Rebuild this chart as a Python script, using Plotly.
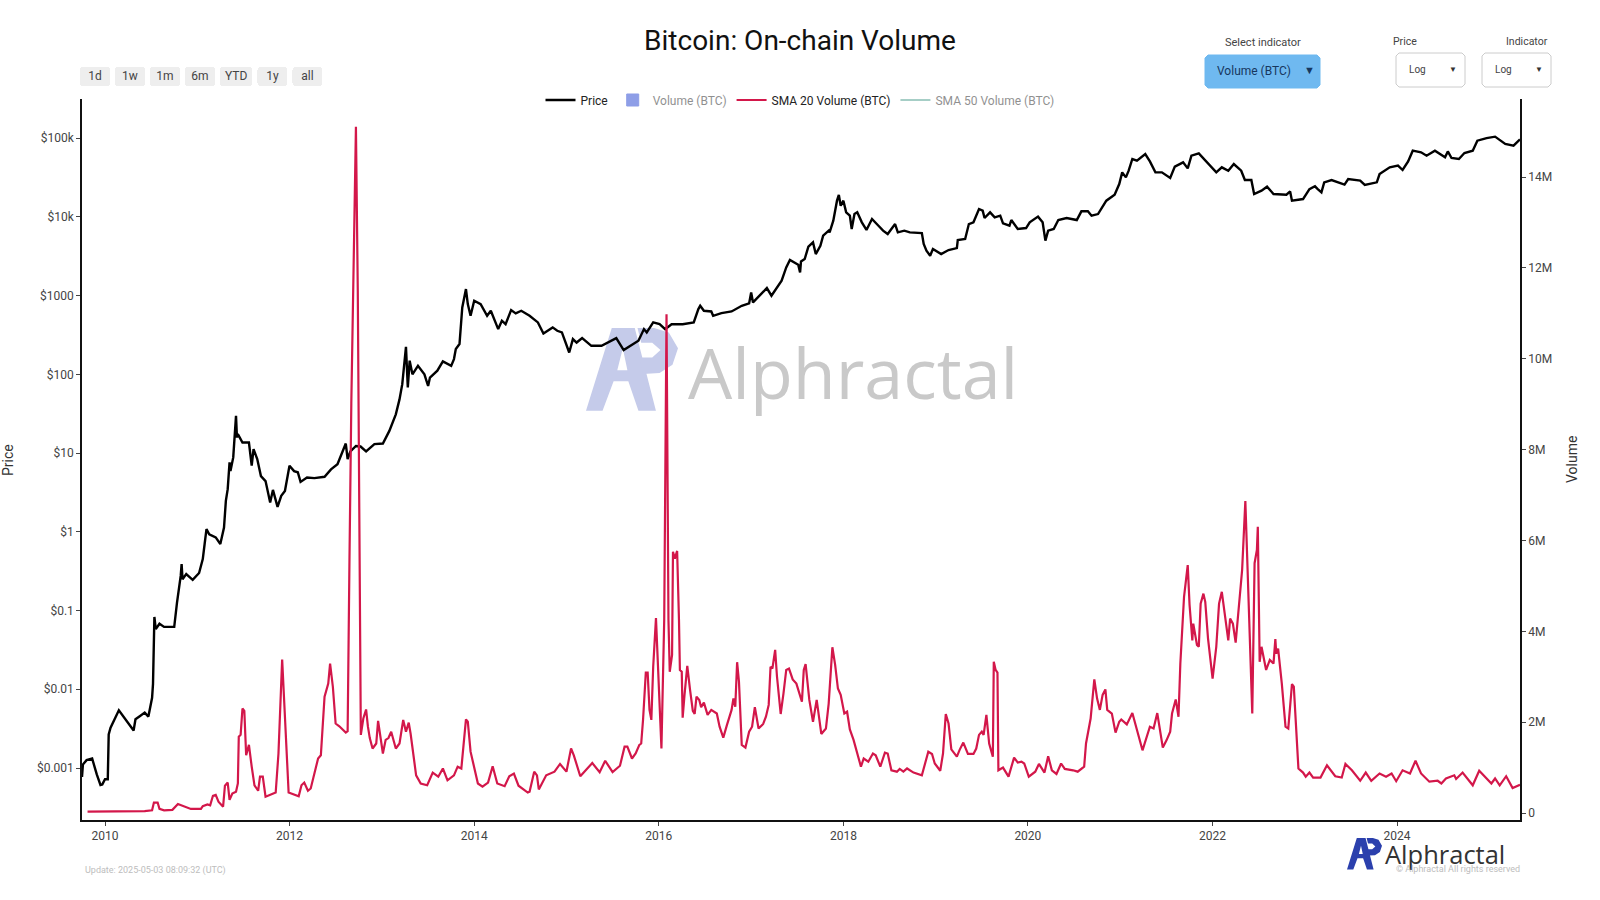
import pandas as pd
import plotly.graph_objects as go

### price (decimal year / usd)
price_years = [2009.75, 2009.76, 2009.80, 2009.86, 2009.91, 2009.95, 2009.97, 2010.00, 2010.03, 2010.04,
    2010.06, 2010.15, 2010.31, 2010.33, 2010.38, 2010.43, 2010.47, 2010.49, 2010.51, 2010.52,
    2010.53, 2010.535, 2010.55, 2010.59, 2010.64, 2010.75, 2010.78, 2010.80, 2010.82, 2010.83, 2010.84,
    2010.88, 2010.95, 2011.02, 2011.06, 2011.08, 2011.10, 2011.13, 2011.20, 2011.25, 2011.29,
    2011.31, 2011.33, 2011.35, 2011.36, 2011.39, 2011.42, 2011.43, 2011.44, 2011.49, 2011.56,
    2011.59, 2011.61, 2011.65, 2011.69, 2011.74, 2011.79, 2011.82, 2011.87, 2011.91, 2011.95,
    2012.00, 2012.05, 2012.09, 2012.12, 2012.19, 2012.27, 2012.38, 2012.45, 2012.52, 2012.61,
    2012.63, 2012.66, 2012.72, 2012.77, 2012.83, 2012.92, 2013.01, 2013.08, 2013.15, 2013.19,
    2013.22, 2013.26, 2013.28, 2013.30, 2013.33, 2013.39, 2013.46, 2013.50, 2013.52, 2013.60,
    2013.66, 2013.75, 2013.78, 2013.80, 2013.84, 2013.87, 2013.91, 2013.93, 2013.96, 2014.00,
    2014.07, 2014.14, 2014.18, 2014.26, 2014.30, 2014.34, 2014.40, 2014.45, 2014.51, 2014.60,
    2014.69, 2014.75, 2014.85, 2014.90, 2014.95, 2015.03, 2015.07, 2015.11, 2015.17, 2015.27,
    2015.38, 2015.54, 2015.62, 2015.70, 2015.78, 2015.84, 2015.87, 2015.94, 2016.01, 2016.07,
    2016.14, 2016.26, 2016.38, 2016.43, 2016.45, 2016.49, 2016.57, 2016.59, 2016.68, 2016.79,
    2016.90, 2016.98, 2017.00, 2017.02, 2017.09, 2017.17, 2017.22, 2017.27, 2017.33, 2017.38,
    2017.42, 2017.51, 2017.53, 2017.54, 2017.58, 2017.62, 2017.67, 2017.70, 2017.75, 2017.78,
    2017.84, 2017.85, 2017.89, 2017.93, 2017.95, 2017.97, 2018.00, 2018.03, 2018.07, 2018.09,
    2018.12, 2018.15, 2018.20, 2018.25, 2018.31, 2018.38, 2018.43, 2018.48, 2018.56, 2018.59,
    2018.66, 2018.72, 2018.85, 2018.87, 2018.90, 2018.94, 2018.97, 2019.06, 2019.14, 2019.23,
    2019.24, 2019.32, 2019.36, 2019.41, 2019.47, 2019.51, 2019.53, 2019.59, 2019.64, 2019.70,
    2019.73, 2019.80, 2019.82, 2019.89, 2019.98, 2020.02, 2020.11, 2020.16, 2020.19, 2020.22,
    2020.28, 2020.33, 2020.42, 2020.53, 2020.58, 2020.65, 2020.69, 2020.76, 2020.85, 2020.94,
    2020.99, 2021.02, 2021.06, 2021.09, 2021.13, 2021.18, 2021.27, 2021.32, 2021.38, 2021.45,
    2021.54, 2021.59, 2021.68, 2021.73, 2021.77, 2021.85, 2021.94, 2022.04, 2022.10, 2022.17,
    2022.23, 2022.31, 2022.35, 2022.42, 2022.45, 2022.53, 2022.59, 2022.66, 2022.80, 2022.84,
    2022.86, 2022.98, 2023.05, 2023.11, 2023.14, 2023.18, 2023.21, 2023.29, 2023.43, 2023.47,
    2023.60, 2023.65, 2023.78, 2023.81, 2023.92, 2024.01, 2024.06, 2024.12, 2024.17, 2024.26,
    2024.32, 2024.41, 2024.52, 2024.55, 2024.59, 2024.67, 2024.73, 2024.82, 2024.87, 2024.97,
    2025.06, 2025.17, 2025.26, 2025.32, 2025.33]
price_usd = [0.00077, 0.00111, 0.00126, 0.00132, 0.00083, 0.00061, 0.00062, 0.00072, 0.00072, 0.00268,
    0.00325, 0.0054, 0.003, 0.00416, 0.00458, 0.00505, 0.0045, 0.00614, 0.0078, 0.0117,
    0.0307, 0.083, 0.058, 0.068, 0.062, 0.062, 0.126, 0.18, 0.275, 0.388, 0.25,
    0.29, 0.245, 0.30, 0.45, 0.70, 1.08, 0.93, 0.85, 0.70, 1.13,
    2.47, 3.48, 7.6, 5.9, 8.8, 29.7, 15.8, 17.4, 13.6, 13.6,
    6.9, 11.2, 8.4, 5.1, 4.4, 2.36, 3.4, 2.07, 2.86, 3.3,
    6.9, 5.9, 5.7, 4.3, 4.9, 4.8, 5.0, 6.2, 7.2, 13.2,
    8.4, 10.5, 12.3, 12.1, 10.5, 13.0, 13.2, 19.1, 31, 48,
    75, 223, 68, 149, 100, 128, 100, 71, 91, 111,
    146, 128, 156, 209, 242, 706, 1208, 778, 553, 859,
    778, 553, 641, 375, 479, 433, 653, 593, 641, 553,
    456, 330, 394, 357, 340, 189, 280, 253, 288, 230,
    230, 288, 203, 230, 267, 375, 340, 456, 433, 375,
    433, 433, 456, 673, 741, 641, 628, 553, 598, 628,
    741, 794, 1096, 818, 995, 1244, 995, 1208, 1542, 2280,
    2825, 2466, 1967, 2716, 2911, 4169, 4732, 3365, 4295, 5754,
    6668, 6340, 8927, 16030, 18923, 13836, 16030, 11400, 10328, 7000,
    10840, 11400, 8510, 6800, 9380, 7700, 6670, 6040, 8090, 6340,
    6670, 6340, 6220, 4510, 3715, 3210, 3900, 3365, 3785, 4010,
    5070, 5220, 8090, 8510, 12560, 11970, 9660, 11400, 9840, 10330,
    8260, 7710, 9100, 7000, 7200, 8510, 10050, 8510, 4980, 6670,
    7000, 9100, 9660, 9100, 11740, 11740, 10330, 10840, 16030, 19100,
    26100, 36700, 31700, 38500, 54200, 51600, 62700, 50600, 36700, 36700,
    31100, 43400, 49200, 41200, 59700, 64000, 49200, 36700, 42500, 38500,
    46800, 38500, 29300, 29300, 19500, 21500, 24100, 19500, 19100, 21000,
    16000, 16800, 22500, 24400, 22500, 20400, 27400, 29300, 25600, 30200,
    28800, 25400, 27400, 34900, 42500, 44600, 39300, 50600, 69200, 65900,
    59700, 69200, 56900, 67700, 55800, 54200, 64500, 69200, 92700, 100000,
    104200, 84100, 80000, 94400, 96000]

### SMA 20 volume (decimal year / million BTC)
sma20_years = [2009.81, 2010.43, 2010.51, 2010.53, 2010.57, 2010.59, 2010.64, 2010.73, 2010.79, 2010.86,
    2010.93, 2011.04, 2011.06, 2011.11, 2011.14, 2011.17, 2011.20, 2011.23, 2011.28, 2011.30,
    2011.33, 2011.35, 2011.38, 2011.42, 2011.44, 2011.45, 2011.47, 2011.49, 2011.51, 2011.53,
    2011.56, 2011.59, 2011.62, 2011.66, 2011.68, 2011.71, 2011.74, 2011.85, 2011.88, 2011.92,
    2011.94, 2011.99, 2012.10, 2012.13, 2012.16, 2012.20, 2012.23, 2012.31, 2012.34, 2012.38,
    2012.42, 2012.44, 2012.47, 2012.50, 2012.54, 2012.61, 2012.63, 2012.64, 2012.65, 2012.67,
    2012.69, 2012.72, 2012.74, 2012.75, 2012.766, 2012.773, 2012.80, 2012.83, 2012.85, 2012.87,
    2012.90, 2012.94, 2012.96, 2013.01, 2013.04, 2013.07, 2013.10, 2013.15, 2013.19, 2013.23,
    2013.26, 2013.29, 2013.31, 2013.34, 2013.37, 2013.42, 2013.49, 2013.55, 2013.61, 2013.66,
    2013.71, 2013.78, 2013.82, 2013.86, 2013.91, 2013.93, 2013.96, 2014.04, 2014.09, 2014.15,
    2014.20, 2014.25, 2014.33, 2014.38, 2014.43, 2014.48, 2014.58, 2014.60, 2014.65, 2014.68,
    2014.70, 2014.78, 2014.87, 2014.93, 2015.00, 2015.05, 2015.08, 2015.15, 2015.28, 2015.36,
    2015.42, 2015.50, 2015.58, 2015.63, 2015.66, 2015.71, 2015.75, 2015.79, 2015.81, 2015.83,
    2015.86, 2015.88, 2015.90, 2015.92, 2015.94, 2015.97, 2016.03, 2016.06, 2016.085, 2016.106,
    2016.12, 2016.145, 2016.155, 2016.175, 2016.20, 2016.22, 2016.23, 2016.25, 2016.26, 2016.28,
    2016.31, 2016.34, 2016.37, 2016.39, 2016.41, 2016.44, 2016.46, 2016.49, 2016.53, 2016.57,
    2016.63, 2016.66, 2016.70, 2016.74, 2016.79, 2016.81, 2016.83, 2016.85, 2016.87, 2016.90,
    2016.94, 2016.98, 2017.01, 2017.04, 2017.08, 2017.13, 2017.16, 2017.19, 2017.21, 2017.23,
    2017.26, 2017.28, 2017.32, 2017.35, 2017.38, 2017.41, 2017.45, 2017.49, 2017.55, 2017.57,
    2017.59, 2017.63, 2017.67, 2017.71, 2017.76, 2017.81, 2017.84, 2017.88, 2017.91, 2017.94,
    2017.97, 2018.01, 2018.04, 2018.07, 2018.11, 2018.19, 2018.22, 2018.27, 2018.32, 2018.35,
    2018.40, 2018.45, 2018.48, 2018.52, 2018.58, 2018.61, 2018.65, 2018.69, 2018.76, 2018.85,
    2018.92, 2018.96, 2018.99, 2019.05, 2019.08, 2019.11, 2019.14, 2019.17, 2019.23, 2019.26,
    2019.30, 2019.35, 2019.41, 2019.44, 2019.47, 2019.50, 2019.52, 2019.55, 2019.58, 2019.62,
    2019.63, 2019.65, 2019.67, 2019.68, 2019.73, 2019.79, 2019.85, 2019.89, 2019.93, 2019.96,
    2020.01, 2020.08, 2020.12, 2020.18, 2020.22, 2020.26, 2020.31, 2020.36, 2020.40, 2020.49,
    2020.54, 2020.61, 2020.63, 2020.68, 2020.72, 2020.75, 2020.78, 2020.81, 2020.84, 2020.86,
    2020.91, 2020.95, 2020.99, 2021.01, 2021.07, 2021.13, 2021.18, 2021.24, 2021.32, 2021.36,
    2021.40, 2021.46, 2021.50, 2021.54, 2021.56, 2021.60, 2021.63, 2021.65, 2021.69, 2021.73,
    2021.75, 2021.78, 2021.79, 2021.83, 2021.85, 2021.87, 2021.90, 2021.92, 2021.95, 2022.00,
    2022.04, 2022.07, 2022.10, 2022.13, 2022.17, 2022.19, 2022.22, 2022.25, 2022.28, 2022.32,
    2022.355, 2022.40, 2022.43, 2022.455, 2022.48, 2022.49, 2022.51, 2022.53, 2022.58, 2022.62,
    2022.66, 2022.68, 2022.69, 2022.71, 2022.75, 2022.79, 2022.82, 2022.86, 2022.88, 2022.93,
    2022.98, 2023.01, 2023.05, 2023.09, 2023.17, 2023.24, 2023.33, 2023.40, 2023.44, 2023.51,
    2023.60, 2023.66, 2023.72, 2023.81, 2023.88, 2023.94, 2023.99, 2024.06, 2024.14, 2024.20,
    2024.26, 2024.35, 2024.44, 2024.48, 2024.53, 2024.62, 2024.64, 2024.71, 2024.82, 2024.89,
    2024.96, 2025.02, 2025.06, 2025.11, 2025.18, 2025.25, 2025.33]
sma20_mbtc = [0.03, 0.04, 0.06, 0.23, 0.23, 0.09, 0.06, 0.07, 0.20, 0.15,
    0.09, 0.09, 0.15, 0.19, 0.17, 0.38, 0.40, 0.25, 0.14, 0.60,
    0.67, 0.29, 0.43, 0.47, 0.65, 1.68, 1.72, 2.30, 2.25, 1.27,
    1.50, 1.02, 0.61, 0.49, 0.80, 0.80, 0.36, 0.45, 1.31, 3.38,
    2.56, 0.45, 0.37, 0.61, 0.67, 0.49, 0.54, 1.20, 1.27, 2.56,
    2.85, 3.29, 2.78, 1.97, 1.91, 1.77, 1.80, 4.25, 5.57, 9.02,
    11.5, 15.11, 11.5, 8.2, 4.25, 1.72, 2.08, 2.28, 1.90, 1.65,
    1.42, 1.53, 2.03, 1.31, 1.61, 1.65, 1.79, 1.42, 1.53, 2.05,
    1.79, 1.99, 1.75, 1.24, 0.83, 0.65, 0.61, 0.89, 0.80, 0.98,
    0.72, 0.83, 1.02, 0.98, 2.06, 2.01, 1.35, 0.65, 0.58, 0.67,
    1.03, 0.65, 0.59, 0.81, 0.87, 0.60, 0.45, 0.47, 0.91, 0.83,
    0.52, 0.83, 0.91, 1.08, 0.91, 1.42, 1.27, 0.81, 1.10, 0.90,
    1.15, 0.90, 1.04, 1.46, 1.46, 1.20, 1.31, 1.50, 1.53, 2.05,
    3.09, 3.09, 2.27, 2.05, 3.22, 4.29, 1.42, 4.25, 10.98, 4.25,
    3.11, 3.48, 5.75, 5.60, 5.77, 4.25, 3.15, 3.11, 2.10, 2.60,
    3.24, 2.71, 2.25, 2.18, 2.56, 2.49, 2.33, 2.43, 2.16, 2.27,
    2.19, 1.90, 1.66, 1.94, 2.27, 2.52, 2.34, 3.32, 2.89, 1.50,
    1.44, 1.79, 1.90, 2.33, 1.86, 1.96, 2.12, 2.38, 3.22, 3.18,
    3.59, 3.00, 2.18, 2.63, 3.15, 3.18, 2.94, 2.85, 2.45, 3.15,
    3.28, 2.49, 2.01, 2.49, 1.74, 1.86, 2.41, 3.65, 3.26, 2.74,
    2.60, 2.19, 2.23, 1.84, 1.61, 1.02, 1.20, 1.13, 1.31, 1.27,
    1.02, 1.33, 1.31, 0.94, 0.91, 0.97, 0.91, 0.98, 0.89, 0.83,
    1.35, 1.30, 1.09, 0.93, 1.31, 2.18, 1.97, 1.40, 1.24, 1.39,
    1.55, 1.30, 1.30, 1.42, 1.72, 1.79, 1.72, 2.16, 1.53, 1.24,
    3.33, 3.15, 3.09, 0.94, 1.00, 0.80, 1.22, 1.11, 1.13, 1.09,
    0.80, 0.91, 1.08, 0.89, 1.25, 0.94, 0.86, 1.09, 0.97, 0.94,
    0.91, 1.02, 1.53, 2.08, 2.94, 2.52, 2.27, 2.60, 2.72, 2.27,
    2.19, 1.77, 2.01, 2.06, 1.95, 2.20, 1.82, 1.38, 1.90, 1.86,
    2.20, 1.44, 1.60, 1.79, 2.19, 2.50, 2.12, 3.29, 4.76, 5.46,
    4.58, 3.80, 4.17, 3.70, 3.66, 4.61, 4.83, 4.65, 3.84, 2.96,
    3.66, 4.61, 4.87, 4.36, 3.80, 4.28, 4.17, 3.75, 4.50, 5.35,
    6.87, 4.32, 2.19, 5.50, 5.79, 6.30, 3.33, 3.66, 3.15, 3.37,
    3.29, 3.83, 3.51, 3.62, 2.85, 1.90, 1.86, 2.84, 2.78, 0.98,
    0.89, 0.80, 0.89, 0.78, 0.78, 1.05, 0.81, 0.78, 1.08, 0.94,
    0.71, 0.89, 0.71, 0.87, 0.80, 0.87, 0.70, 0.94, 0.87, 1.15,
    0.87, 0.69, 0.71, 0.65, 0.76, 0.83, 0.75, 0.89, 0.61, 0.93,
    0.78, 0.65, 0.76, 0.61, 0.81, 0.55, 0.62]

### hidden in the reference (legend only), last value is all that can be guessed
volume_years = [2025.33]
volume_mbtc = [0.6]
sma50_years = [2025.33]
sma50_mbtc = [0.8]

price_ticks = [0.001, 0.01, 0.1, 1, 10, 100, 1000, 10000, 100000]
price_labels = ['$0.001', '$0.01', '$0.1', '$1', '$10', '$100', '$1000', '$10k', '$100k']
volume_ticks = [0, 2, 4, 6, 8, 10, 12, 14]
volume_labels = ['0', '2M', '4M', '6M', '8M', '10M', '12M', '14M']

assert len(price_years) == len(price_usd)
assert len(sma20_years) == len(sma20_mbtc)

W, H = 1600, 900
L, R, T, B = 82, 1520, 99, 820  ### plot area in pixels


def to_dates(years):
    return [pd.Timestamp(int(y), 1, 1) + pd.Timedelta(days=(y - int(y)) * 365.25) for y in years]


def px_x(x):
    return (x - L) / (R - L)


def px_y(y):
    return (B - y) / (B - T)


def note(text, x, y, size, color, anchor='left', **kw):
    return dict(text=text, x=px_x(x), y=px_y(y), xref='paper', yref='paper', showarrow=False,
                xanchor=anchor, yanchor='middle', font=kw.pop('font', {}) | dict(size=size, color=color), **kw)


def box(x0, y0, x1, y1, fill, line, r=3):
    p = (f'M{px_x(x0 + r)},{px_y(y0)} L{px_x(x1 - r)},{px_y(y0)} L{px_x(x1)},{px_y(y0 + r)} '
         f'L{px_x(x1)},{px_y(y1 - r)} L{px_x(x1 - r)},{px_y(y1)} L{px_x(x0 + r)},{px_y(y1)} '
         f'L{px_x(x0)},{px_y(y1 - r)} L{px_x(x0)},{px_y(y0 + r)} Z')
    return dict(type='path', path=p, xref='paper', yref='paper', fillcolor=fill, line=dict(color=line, width=1))


### logo drawn in a 100x90 box
logo_a = [(0, 90), (18, 90), (30, 58), (46, 58), (57, 90), (76, 90), (53, 0), (28, 0)]
logo_a_hole = [(34, 46), (40, 22), (45, 46)]
logo_p = [(56, 0), (74, 0), (90, 5), (100, 22), (94, 40), (80, 49), (62, 50), (58, 32), (72, 32), (81, 24),
          (72, 16), (60, 16)]


def logo(x0, y0, k, color):
    def sub(pts):
        return 'M' + ' L'.join(f'{px_x(x0 + a * k)},{px_y(y0 + b * k)}' for a, b in pts) + ' Z'
    return [dict(type='path', path=sub(logo_a) + ' ' + sub(logo_a_hole), xref='paper', yref='paper',
                 fillcolor=color, line=dict(width=0), layer='below'),
            dict(type='path', path=sub(logo_p), xref='paper', yref='paper',
                 fillcolor=color, line=dict(width=0), layer='below')]


fig = go.Figure()
fig.add_trace(go.Scatter(x=to_dates(price_years), y=price_usd, name='Price', mode='lines',
                         line=dict(color='#000000', width=2.4), yaxis='y'))
fig.add_trace(go.Bar(x=to_dates(volume_years), y=volume_mbtc, name='Volume (BTC)', yaxis='y2',
                     marker=dict(color='#1f3fd0', line=dict(color='#1f3fd0', width=1)), visible='legendonly'))
fig.add_trace(go.Scatter(x=to_dates(sma20_years), y=sma20_mbtc, name='SMA 20 Volume (BTC)', mode='lines',
                         line=dict(color='#d3174a', width=2.2), yaxis='y2'))
fig.add_trace(go.Scatter(x=to_dates(sma50_years), y=sma50_mbtc, name='SMA 50 Volume (BTC)', mode='lines',
                         line=dict(color='#4f9e8f', width=2), yaxis='y2', visible='legendonly'))

shapes = logo(586, 328, 0.92, '#c5cbea') + logo(1347, 838, 0.35, '#2b40ad')
shapes += [box(1205, 55, 1320, 88, '#6fb9f0', '#6fb9f0'),
           box(1396, 53, 1465, 87, '#ffffff', '#cccccc'),
           box(1482, 53, 1551, 87, '#ffffff', '#cccccc')]

open_sans = dict(family='Open Sans')
annotations = [
    note('Price', 8, 460, 14, '#333333', 'center', textangle=-90),
    note('Volume', 1572, 460, 14, '#333333', 'center', textangle=-90),
    note('Select indicator', 1263, 42, 11, '#444444', 'center'),
    note('Price', 1405, 41, 10.5, '#444444', 'center'),
    note('Indicator', 1527, 41, 10.5, '#444444', 'center'),
    note('Volume (BTC)', 1215, 70.5, 12, '#17375e'),
    note('▼', 1309, 70, 11, '#17375e', 'center'),
    note('Log', 1407, 69, 10, '#444444'),
    note('▼', 1453, 69, 8, '#333333', 'center'),
    note('Log', 1493, 69, 10, '#444444'),
    note('▼', 1539, 69, 8, '#333333', 'center'),
    note('Alphractal', 686, 372, 70, '#c9c9c9', font=open_sans),
    note('Alphractal', 1383, 854, 25.5, '#333333', font=open_sans),
    note('© Alphractal All rights reserved', 1394, 869, 9, '#bdbdbd'),
    note('Update: 2025-05-03 08:09:32 (UTC)', 83, 870, 9, '#bdbdbd'),
]

axis_style = dict(showgrid=False, zeroline=False, showline=True, linecolor='#111111', linewidth=1.5,
                  ticks='outside', ticklen=4, tickcolor='#444444', tickfont=dict(size=12, color='#444444'))

fig.update_layout(
    width=W, height=H, autosize=False,
    margin=dict(l=L, r=W - R, t=T, b=H - B, pad=0),
    paper_bgcolor='white', plot_bgcolor='white',
    font=dict(family='Roboto', size=12, color='#222222'),
    title=dict(text='Bitcoin: On-chain Volume', x=0.5, xanchor='center', y=(H - 40) / H, yanchor='middle',
               font=dict(size=28, color='#111111')),
    legend=dict(orientation='h', x=px_x(800), xanchor='center', y=px_y(100), yanchor='middle',
                font=dict(size=12, color='#222222'), bgcolor='rgba(0,0,0,0)'),
    showlegend=True,
    bargap=0,
    shapes=shapes,
    annotations=annotations,
    xaxis=dict(type='date', range=[to_dates([2009.75])[0], to_dates([2025.33])[0]],
               tick0='2010-01-01', dtick='M24', tickformat='%Y',
               rangeselector=dict(x=px_x(79.5), xanchor='left', y=px_y(86), yanchor='bottom',
                                  bgcolor='#eeeeee', activecolor='#eeeeee', font=dict(size=12, color='#444444'),
                                  buttons=[dict(count=1, label='1d', step='day', stepmode='backward'),
                                           dict(count=7, label='1w', step='day', stepmode='backward'),
                                           dict(count=1, label='1m', step='month', stepmode='backward'),
                                           dict(count=6, label='6m', step='month', stepmode='backward'),
                                           dict(count=1, label='YTD', step='year', stepmode='todate'),
                                           dict(count=1, label='1y', step='year', stepmode='backward'),
                                           dict(label='all', step='all')]),
               **axis_style),
    yaxis=dict(type='log', range=[-3.66, 5.496], tickvals=price_ticks, ticktext=price_labels, **axis_style),
    yaxis2=dict(overlaying='y', side='right', range=[-0.154, 15.72], tickvals=volume_ticks,
                ticktext=volume_labels, **axis_style),
)

### the page has a default body margin of 8px, take it away so the chart fills the window
fig.write_html("out.html", config=dict(displayModeBar=False), post_script="document.body.style.margin='0';")
